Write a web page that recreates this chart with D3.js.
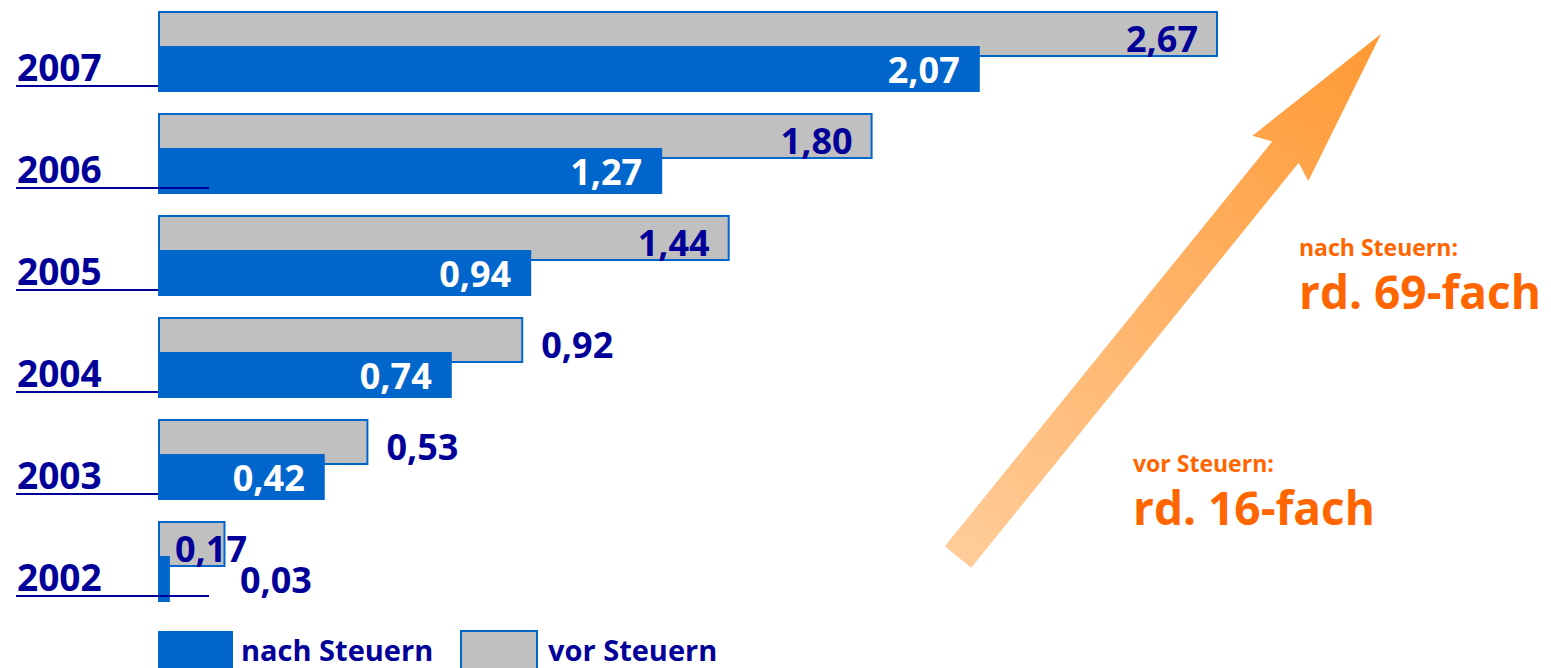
<!DOCTYPE html>
<html><head><meta charset="utf-8">
<script src="https://cdn.jsdelivr.net/npm/d3@7"></script>
<style>
html,body{margin:0;padding:0;background:#fff;}
svg{display:block;font-family:"Open Sans","Noto Sans",sans-serif;font-weight:700;}
</style></head>
<body>
<svg id="c" width="1551" height="668"></svg>
<script>
const years = ["2007","2006","2005","2004","2003","2002"];
const vorSteuern = [2.67, 1.80, 1.44, 0.92, 0.53, 0.17];
const nachSteuern = [2.07, 1.27, 0.94, 0.74, 0.42, 0.03];
const legendLabels = ["nach Steuern", "vor Steuern"];
const noteLabels = [["nach Steuern:", "rd. 69-fach"], ["vor Steuern:", "rd. 16-fach"]];

const NAVY = "#000099", BLUE = "#0066CC", GREY = "#C0C0C0", ORANGE = "#FF6600";
const fmt = v => d3.format(".2f")(v).replace(".", ",");

const svg = d3.select("#c");
const x = d3.scaleLinear().domain([0, 1]).range([158, 555]);
const y = d3.scaleBand().domain(years).range([11, 11 + 6 * 102]).paddingInner(0).paddingOuter(0);

const rows = years.map((yr, i) => ({yr, vor: vorSteuern[i], nach: nachSteuern[i], i}));

// arrow (decoration)
const defs = svg.append("defs");
const grad = defs.append("linearGradient").attr("id", "ag")
  .attr("gradientUnits", "userSpaceOnUse")
  .attr("x1", 958).attr("y1", 557).attr("x2", 1381).attr("y2", 34);
grad.append("stop").attr("offset", "0").attr("stop-color", "#FFCC99");
grad.append("stop").attr("offset", "1").attr("stop-color", "#FF9933");
(function(){
  const tail = [958, 557], tip = [1381, 34];
  const dx = tip[0]-tail[0], dy = tip[1]-tail[1], L = Math.hypot(dx, dy);
  const ux = dx/L, uy = dy/L, px = -uy, py = ux;
  const hw = 17, hh = 36, headLen = 160;
  const bx = tip[0]-ux*headLen, by = tip[1]-uy*headLen;
  const pts = [
    [tail[0]+px*hw, tail[1]+py*hw],
    [bx+px*hw+ux*8, by+py*hw+uy*8],
    [bx+px*hh, by+py*hh],
    tip,
    [bx-px*hh, by-py*hh],
    [bx-px*hw+ux*8, by-py*hw+uy*8],
    [tail[0]-px*hw, tail[1]-py*hw]
  ];
  svg.append("path").attr("d", d3.line()(pts) + "Z").attr("fill", "url(#ag)");
})();

// year labels + underline
const g = svg.append("g");
g.selectAll("line.ul").data(rows).join("line").attr("class", "ul")
  .attr("x1", 16).attr("x2", x(0))
  .attr("y1", d => y(d.yr) + 75).attr("y2", d => y(d.yr) + 75)
  .attr("stroke", NAVY).attr("stroke-width", 2);
g.selectAll("text.yr").data(rows).join("text").attr("class", "yr")
  .attr("x", 17).attr("y", d => y(d.yr) + 70)
  .attr("fill", NAVY).attr("font-size", 37).text(d => d.yr);

// grey bars
g.selectAll("rect.vor").data(rows).join("rect").attr("class", "vor")
  .attr("x", x(0) + 1).attr("y", d => y(d.yr) + 1)
  .attr("width", d => x(d.vor) - x(0) - 2).attr("height", 44)
  .attr("fill", GREY).attr("stroke", BLUE).attr("stroke-width", 2);
// blue bars
g.selectAll("rect.nach").data(rows).join("rect").attr("class", "nach")
  .attr("x", x(0)).attr("y", d => y(d.yr) + 35)
  .attr("width", d => x(d.nach) - x(0)).attr("height", 46)
  .attr("fill", BLUE);

// extra underline overlays for 2006 & 2002
g.selectAll("line.ul2").data(rows.filter(d => d.yr === "2006" || d.yr === "2002")).join("line")
  .attr("class", "ul2")
  .attr("x1", x(0)).attr("x2", 209)
  .attr("y1", d => y(d.yr) + 75).attr("y2", d => y(d.yr) + 75)
  .attr("stroke", NAVY).attr("stroke-width", 2);

// grey value labels
g.selectAll("text.vl").data(rows).join("text").attr("class", "vl")
  .attr("font-size", 36).attr("fill", NAVY)
  .attr("text-anchor", d => d.vor > 1 ? "end" : "start")
  .attr("x", d => d.vor > 1 ? x(d.vor) - 20 : (d.vor < 0.3 ? x(0) + 17 : x(d.vor) + 18))
  .attr("y", d => y(d.yr) + 41)
  .text(d => fmt(d.vor));
// blue value labels
g.selectAll("text.nl").data(rows).join("text").attr("class", "nl")
  .attr("font-size", 36)
  .attr("fill", d => d.nach > 0.2 ? "#fff" : NAVY)
  .attr("text-anchor", d => d.nach > 0.2 ? "end" : "start")
  .attr("x", d => d.nach > 0.2 ? x(d.nach) - 20 : x(d.nach) + 70)
  .attr("y", d => y(d.yr) + 72)
  .text(d => fmt(d.nach));

// legend
const lg = svg.append("g");
lg.append("rect").attr("x", 158).attr("y", 631).attr("width", 75).attr("height", 40).attr("fill", BLUE);
lg.append("text").attr("x", 241).attr("y", 661).attr("font-size", 29).attr("fill", NAVY).text(legendLabels[0]);
lg.append("rect").attr("x", 461).attr("y", 631).attr("width", 76).attr("height", 40)
  .attr("fill", GREY).attr("stroke", BLUE).attr("stroke-width", 2);
lg.append("text").attr("x", 548).attr("y", 661).attr("font-size", 29).attr("fill", NAVY).text(legendLabels[1]);

// notes
const notes = [{x: 1299, y: 256, t: noteLabels[0]}, {x: 1133, y: 472, t: noteLabels[1]}];
notes.forEach(n => {
  svg.append("text").attr("x", n.x).attr("y", n.y).attr("font-size", 23).attr("fill", ORANGE).text(n.t[0]);
  svg.append("text").attr("x", n.x).attr("y", n.y + 53).attr("font-size", 46).attr("fill", ORANGE).text(n.t[1]);
});
</script>
</body></html>
